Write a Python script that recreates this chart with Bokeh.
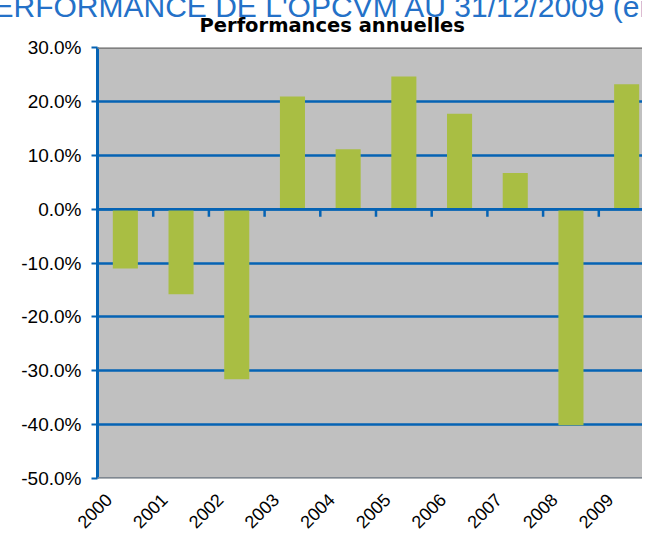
import math
from bokeh.plotting import figure
from bokeh.models import Range1d, FixedTicker, NumeralTickFormatter, Span, Title, ColumnDataSource
from bokeh.embed import file_html
from bokeh.resources import INLINE

# ---- data ----
years = ["2000", "2001", "2002", "2003", "2004", "2005", "2006", "2007", "2008", "2009"]
perf = [-0.110, -0.158, -0.316, 0.209, 0.111, 0.246, 0.177, 0.067, -0.401, 0.232]
y_ticks = [-0.5, -0.4, -0.3, -0.2, -0.1, 0.0, 0.1, 0.2, 0.3]
heading = "PERFORMANCE DE L'OPCVM AU 31/12/2009 (en %)"
chart_title = "Performances annuelles"

BLUE = "#0563B4"
BAR = "#A9BE43"
BG = "#C0C0C0"
FONT = "Liberation Sans"

W, H = 642, 537
LEFT, TOP, BOTTOM = 97, 46, 54
frame_w = W - LEFT
cat_px = 55.7  # pixel width of one category

p = figure(width=W, height=H, output_backend="svg", toolbar_location=None, title=None,
           x_range=Range1d(-0.5, -0.5 + frame_w / cat_px),
           y_range=Range1d(y_ticks[0], y_ticks[-1]),
           min_border_left=LEFT, min_border_right=0, min_border_top=TOP, min_border_bottom=BOTTOM)
p.background_fill_color = BG
p.border_fill_color = "white"
p.outline_line_color = None

xs = list(range(len(years)))
src = ColumnDataSource(dict(x=xs, top=perf))

# grid
p.xgrid.grid_line_color = None
p.ygrid.ticker = FixedTicker(ticks=y_ticks)
p.ygrid.grid_line_color = BLUE
p.ygrid.grid_line_width = 2.5

# y axis
p.yaxis.ticker = FixedTicker(ticks=y_ticks)
p.yaxis.formatter = NumeralTickFormatter(format="0.0%")
p.yaxis.axis_line_color = BLUE
p.yaxis.axis_line_width = 3
p.yaxis.major_tick_line_color = BLUE
p.yaxis.major_tick_line_width = 2
p.yaxis.major_tick_out = 6
p.yaxis.major_tick_in = 0
p.yaxis.minor_tick_line_color = None
p.yaxis.major_label_text_font = FONT
p.yaxis.major_label_text_font_size = "19px"
p.yaxis.major_label_text_color = "black"
p.yaxis.major_label_standoff = 10

# x axis (labels only, rotated; shifted so the label ends sit left of the bar)
label_pos = [round(i - 0.3, 2) for i in xs]
p.xaxis.ticker = FixedTicker(ticks=label_pos)
p.xaxis.major_label_overrides = {t: y for t, y in zip(label_pos, years)}
p.xaxis.axis_line_color = None
p.xaxis.major_tick_line_color = None
p.xaxis.minor_tick_line_color = None
p.xaxis.major_label_orientation = math.pi / 4
p.xaxis.major_label_text_font = FONT
p.xaxis.major_label_text_font_size = "18px"
p.xaxis.major_label_text_color = "black"
p.xaxis.major_label_standoff = 12

# frame top / bottom gray lines
p.add_layout(Span(location=y_ticks[-1], dimension="width", line_color="#808080", line_width=3, level="overlay"))
p.add_layout(Span(location=y_ticks[0], dimension="width", line_color="#7F8790", line_width=3, level="overlay"))

# bars
p.vbar(x="x", top="top", bottom=0, width=0.45, source=src, fill_color=BAR, line_color=None)

# zero axis line with category boundary ticks
p.add_layout(Span(location=0, dimension="width", line_color=BLUE, line_width=2.5, level="overlay"))
bounds = [i + 0.5 for i in xs[:-1]]
p.segment(x0=bounds, x1=bounds, y0=[0] * len(bounds), y1=[-0.014] * len(bounds),
          line_color=BLUE, line_width=2.5)

# titles in the top panel (first added sits next to the plot area)
p.add_layout(Title(text=chart_title, align="left", offset=199 - LEFT, standoff=22,
                   text_font="DejaVu Sans", text_font_style="bold", text_font_size="19.5px",
                   text_color="black"), "above")
p.add_layout(Title(text=heading, align="left", offset=-27 - LEFT, standoff=-44,
                   text_font=FONT, text_font_style="normal", text_font_size="30px",
                   text_color="#2471C8"), "above")

open("out.html", "w").write(file_html(p, INLINE))
